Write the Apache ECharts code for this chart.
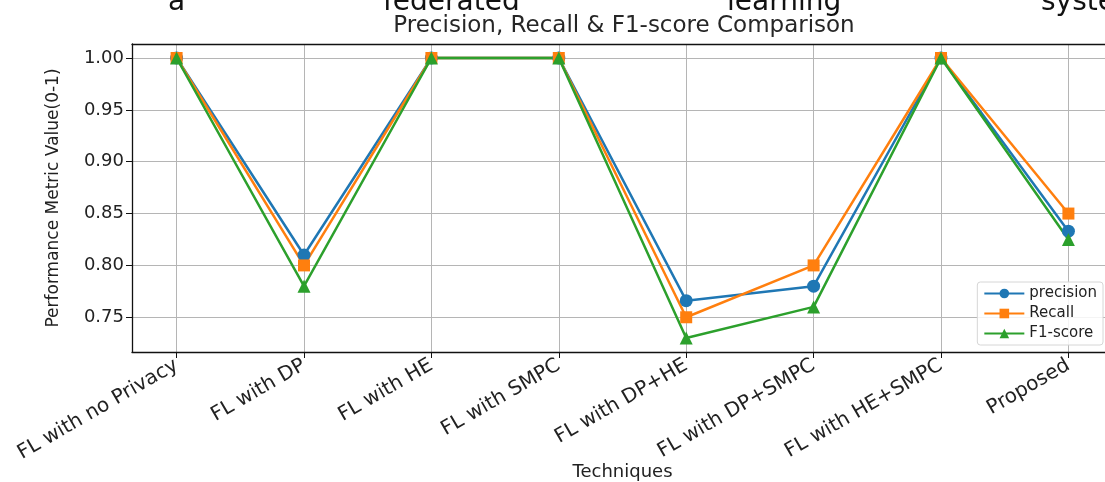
<!DOCTYPE html>
<html>
<head>
<meta charset="utf-8">
<script src="https://cdn.jsdelivr.net/npm/echarts@6/dist/echarts.min.js"></script>
<style>
html,body{margin:0;padding:0;background:#fff;}
#chart{width:1105px;height:482px;}
</style>
</head>
<body>
<div id="chart"></div>
<script>
const categories = ["FL with no Privacy","FL with DP","FL with HE","FL with SMPC","FL with DP+HE","FL with DP+SMPC","FL with HE+SMPC","Proposed"];
const precision = [1.0, 0.81, 1.0, 1.0, 0.766, 0.78, 1.0, 0.833];
const recall    = [1.0, 0.80, 1.0, 1.0, 0.75, 0.80, 1.0, 0.85];
const f1score   = [1.0, 0.78, 1.0, 1.0, 0.73, 0.76, 1.0, 0.825];
const yTicks = [0.75, 0.80, 0.85, 0.90, 0.95, 1.00];
const topWords = ["a", "federated", "learning", "system"];

const xIdx = categories.map((c, i) => i);
const FONT = "DejaVu Sans";
const toPts = arr => arr.map((v, i) => [i, v]);

const chart = echarts.init(document.getElementById('chart'), null, {renderer: 'canvas'});
const mk = (name, data, color, symbol, size) => ({
  name, type: 'line', data: toPts(data), symbol, symbolSize: size,
  showSymbol: true, clip: false,
  itemStyle: {color}, lineStyle: {color, width: 2.5},
  emphasis: {disabled: true}, animation: false
});
const topX = [168, 383, 727, 1041];
chart.setOption({
  animation: false,
  backgroundColor: '#fff',
  title: {
    text: 'Precision, Recall & F1-score Comparison',
    left: 619, top: 10, textAlign: 'center',
    textStyle: {fontFamily: FONT, fontSize: 23, fontWeight: 'normal', color: '#262626'}
  },
  graphic: topWords.map((w, i) => ({
    type: 'text', left: topX[i], top: -11,
    style: {text: w, font: '28px "DejaVu Sans"', fill: '#111'}
  })),
  grid: {left: 132, right: -8, top: 44, bottom: 130, containLabel: false, outerBoundsMode: 'none'},
  legend: {
    orient: 'vertical', right: 2, top: 282,
    data: ['precision', 'Recall', 'F1-score'],
    itemWidth: 40, itemHeight: 12, itemGap: 5,
    padding: [4, 6, 4, 6],
    backgroundColor: 'rgba(255,255,255,0.85)',
    borderColor: '#d6d6d6', borderWidth: 1, borderRadius: 3,
    textStyle: {fontFamily: FONT, fontSize: 15, color: '#222'}
  },
  xAxis: [{
    type: 'value', min: -0.35, max: 7.35, position: 'bottom',
    axisLine: {show: true, onZero: false, lineStyle: {color: '#111', width: 1.3}},
    axisTick: {show: true, customValues: xIdx, length: 6, lineStyle: {color: '#111'}},
    axisLabel: {customValues: xIdx, formatter: v => categories[Math.round(v)], rotate: 30,
      fontFamily: FONT, fontSize: 20, color: '#222', margin: 12},
    splitLine: {show: true, lineStyle: {color: '#b5b5b5', width: 1}},
    name: 'Techniques', nameLocation: 'middle', nameGap: 111, nameMoveOverlap: false,
    nameTextStyle: {fontFamily: FONT, fontSize: 18, color: '#222'}
  }, {
    type: 'value', min: -0.35, max: 7.35, position: 'top',
    axisLine: {show: true, onZero: false, lineStyle: {color: '#111', width: 1.3}},
    axisTick: {show: false}, axisLabel: {show: false}, splitLine: {show: false}
  }],
  yAxis: [{
    type: 'value', min: 0.7165, max: 1.0135, position: 'left',
    axisLine: {show: true, onZero: false, lineStyle: {color: '#111', width: 1.3}},
    axisTick: {show: true, customValues: yTicks, length: 6, lineStyle: {color: '#111'}},
    axisLabel: {customValues: yTicks, formatter: v => v.toFixed(2),
      fontFamily: FONT, fontSize: 18, color: '#222', margin: 8},
    splitLine: {show: true, lineStyle: {color: '#b5b5b5', width: 1}},
    name: 'Performance Metric Value(0-1)', nameLocation: 'middle', nameGap: 70, nameMoveOverlap: false,
    nameTextStyle: {fontFamily: FONT, fontSize: 17, color: '#222'}
  }],
  series: [
    mk('precision', precision, '#1f77b4', 'circle', 13),
    mk('Recall', recall, '#ff7f0e', 'rect', 12),
    mk('F1-score', f1score, '#2ca02c', 'triangle', 13)
  ]
});
</script>
</body>
</html>
